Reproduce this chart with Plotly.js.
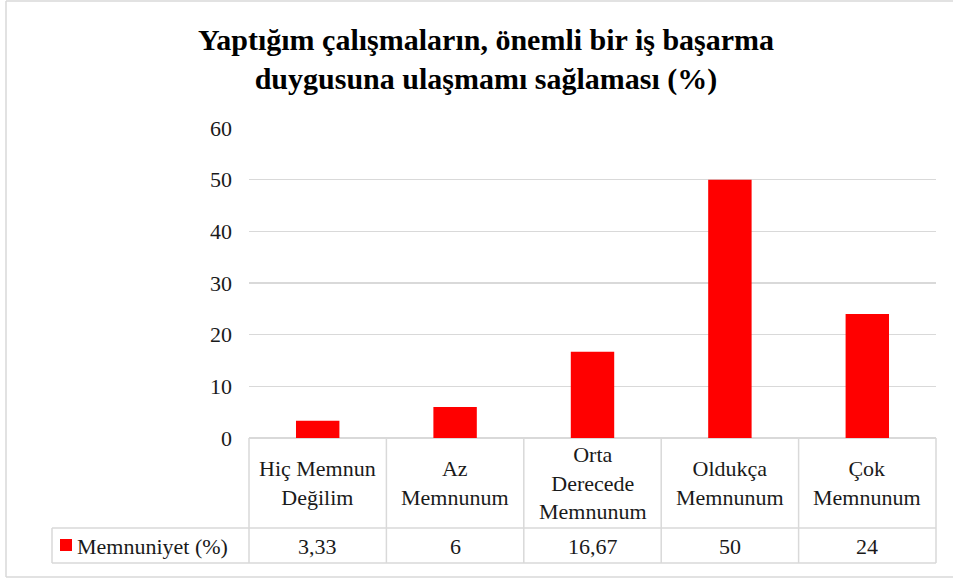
<!DOCTYPE html>
<html>
<head>
<meta charset="utf-8">
<script src="https://cdn.plot.ly/plotly-3.0.1.min.js"></script>
<style>html,body{margin:0;padding:0;background:#fff;}#chart{width:953px;height:578px;}</style>
</head>
<body>
<div id="chart"></div>
<script>
const categories = ["Hiç Memnun Değilim", "Az Memnunum", "Orta Derecede Memnunum", "Oldukça Memnunum", "Çok Memnunum"];
const categoryLabels = ["Hiç Memnun<br>Değilim", "Az<br>Memnunum", "Orta<br>Derecede<br>Memnunum", "Oldukça<br>Memnunum", "Çok<br>Memnunum"];
const values = [3.33, 6, 16.67, 50, 24];
const seriesName = "Memnuniyet (%)";
const titleText = "Yaptığım çalışmaların, önemli bir iş başarma<br>duygusuna ulaşmamı sağlaması (%)";

const W = 953, H = 578;
const L = 249, R = 936, T = 128, B = 438;
const px = x => (x - L) / (R - L);
const py = y => (B - y) / (B - T);
const FONT = "Times New Roman";
const grid = "#d9d9d9";
const textCol = "#1a1a1a";

const shapes = [];
const line = (x0, y0, x1, y1, col) => shapes.push({type: "line", xref: "paper", yref: "paper",
  x0: px(x0), y0: py(y0), x1: px(x1), y1: py(y1), line: {color: col || grid, width: 1.5}});

// outer border
line(6, 1, 953, 1, "#d9d9d9");
line(6, 1, 6, 577, "#d9d9d9");
line(6, 577, 953, 577, "#d9d9d9");

// table
const colW = (R - L) / categories.length;
const rowTop = 528, rowBot = 563, legL = 52;
for (let i = 0; i <= categories.length; i++) {
  const x = L + i * colW;
  line(x, B, x, rowBot);
}
line(legL, rowTop, R, rowTop);
line(legL, rowBot, R, rowBot);
line(legL, rowTop, legL, rowBot);
// legend key
shapes.push({type: "rect", xref: "paper", yref: "paper", x0: px(60), x1: px(72), y0: py(551), y1: py(539),
  fillcolor: "#ff0000", line: {width: 0}});

const annotations = [];
categories.forEach((c, i) => {
  annotations.push({xref: "x", yref: "paper", x: c, y: py(483), text: categoryLabels[i], showarrow: false,
    font: {family: FONT, size: 22, color: textCol}, yanchor: "middle", xanchor: "center"});
  annotations.push({xref: "x", yref: "paper", x: c, y: py(546), text: String(values[i]).replace(".", ","), showarrow: false,
    font: {family: FONT, size: 22, color: textCol}, yanchor: "middle", xanchor: "center"});
});
annotations.push({xref: "paper", yref: "paper", x: px(75), y: py(546), text: seriesName, showarrow: false,
  font: {family: FONT, size: 22, color: textCol}, yanchor: "middle", xanchor: "left"});

const data = [{type: "bar", x: categories, y: values, name: seriesName, marker: {color: "#ff0000"}, hoverinfo: "none"}];

const layout = {
  width: W, height: H,
  margin: {l: L, r: W - R, t: T, b: H - B, pad: 0},
  paper_bgcolor: "#fff", plot_bgcolor: "#fff",
  showlegend: false,
  bargap: 0.684,
  font: {family: FONT},
  title: {text: titleText, font: {family: FONT, size: 30, color: "#000", weight: "bold"},
    x: 486 / W, xref: "container", xanchor: "center", y: 1 - 50 / H, yref: "container", yanchor: "middle"},
  xaxis: {showticklabels: false, showgrid: false, zeroline: false, showline: false, ticks: "", fixedrange: true},
  yaxis: {range: [0, 60], dtick: 10, showgrid: true, gridcolor: grid, gridwidth: 1.5, zeroline: true, zerolinecolor: grid, zerolinewidth: 1.5,
    showline: false, ticks: "", ticklabelstandoff: 16, tickfont: {family: FONT, size: 22, color: textCol}},
  shapes: shapes,
  annotations: annotations
};
Plotly.newPlot("chart", data, layout, {staticPlot: true}).then(() => {
  document.querySelectorAll("#chart text").forEach(t =>
    t.style.setProperty("font-family", "'Liberation Serif', 'Times New Roman', serif", "important"));
});
</script>
</body>
</html>
